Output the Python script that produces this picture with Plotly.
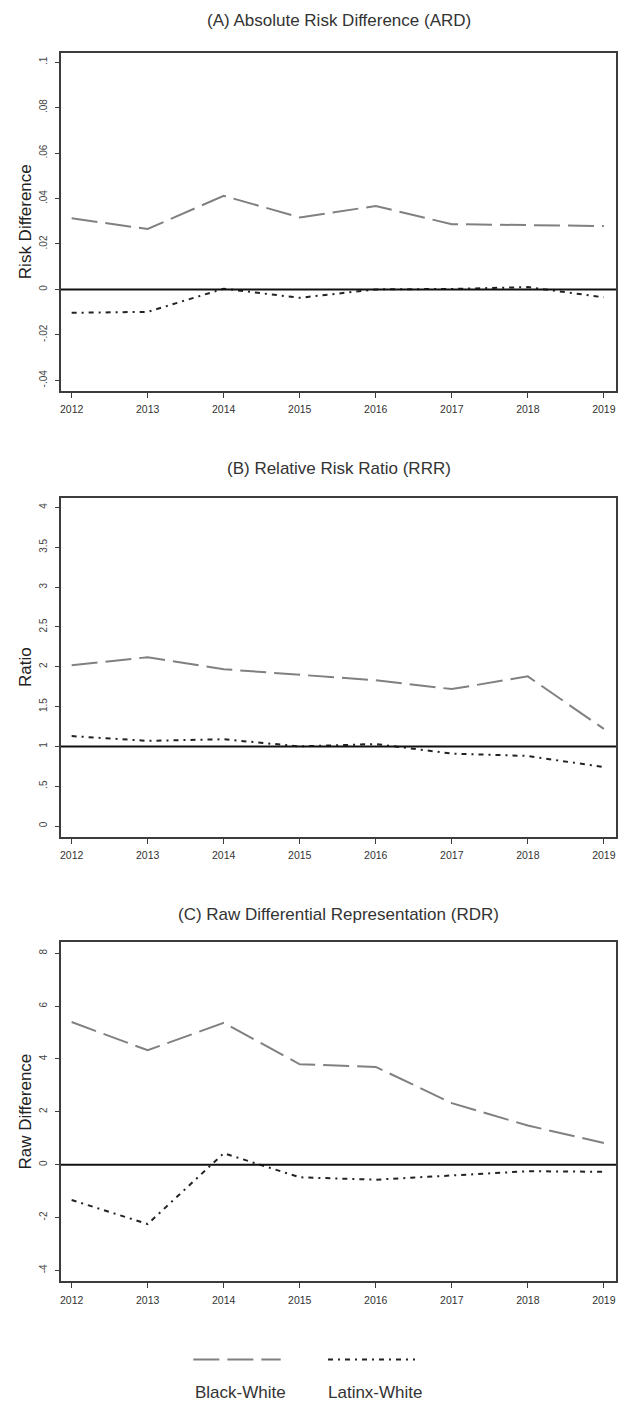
import plotly.graph_objects as go

# ---------------- data ----------------
years = [2012, 2013, 2014, 2015, 2016, 2017, 2018, 2019]
series_names = ["Black-White", "Latinx-White"]

ard_black = [0.0313, 0.0266, 0.0412, 0.0317, 0.0367, 0.0287, 0.0283, 0.0279]
ard_latinx = [-0.0103, -0.0099, 0.0003, -0.0037, 0.0000, 0.0002, 0.0010, -0.0035]

rrr_black = [2.02, 2.12, 1.97, 1.90, 1.83, 1.72, 1.88, 1.22]
rrr_latinx = [1.13, 1.07, 1.09, 1.00, 1.03, 0.91, 0.88, 0.74]

rdr_black = [5.40, 4.33, 5.37, 3.80, 3.70, 2.33, 1.48, 0.82]
rdr_latinx = [-1.34, -2.25, 0.43, -0.48, -0.57, -0.42, -0.25, -0.27]

panel_titles = ["(A) Absolute Risk Difference (ARD)",
                "(B) Relative Risk Ratio (RRR)",
                "(C) Raw Differential Representation (RDR)"]
y_titles = ["Risk Difference", "Ratio", "Raw Difference"]
ref_values = [0, 1, 0]

ard_tickvals = [-0.04, -0.02, 0, 0.02, 0.04, 0.06, 0.08, 0.1]
ard_ticktext = ["-.04", "-.02", "0", ".02", ".04", ".06", ".08", ".1"]
rrr_tickvals = [0, 0.5, 1, 1.5, 2, 2.5, 3, 3.5, 4]
rrr_ticktext = ["0", ".5", "1", "1.5", "2", "2.5", "3", "3.5", "4"]
rdr_tickvals = [-4, -2, 0, 2, 4, 6, 8]
rdr_ticktext = ["-4", "-2", "0", "2", "4", "6", "8"]

# ---------------- styling / layout ----------------
W, H = 630, 1406
FONT = "Liberation Sans, Arial, sans-serif"
black_color = "#808080"
latinx_color = "#222222"
black_dash = "26px,8px"
latinx_dash = "5px,5px,2px,5px"
frame_color = "#3c3c3c"

box_x = (61, 616)
boxes_y = [(52.7, 390.7), (497.7, 836.7), (942.3, 1281.0)]
title_y = [20.7, 468.3, 914.3]
y_ranges = [(-0.0446, 0.1042), (-0.134, 4.124), (-4.406, 8.418)]
x_range = (2011.86, 2019.16)

panels = [
    (ard_black, ard_latinx, ard_tickvals, ard_ticktext),
    (rrr_black, rrr_latinx, rrr_tickvals, rrr_ticktext),
    (rdr_black, rdr_latinx, rdr_tickvals, rdr_ticktext),
]

fig = go.Figure()
layout = dict(
    width=W, height=H,
    margin=dict(l=0, r=0, t=0, b=0),
    paper_bgcolor="white", plot_bgcolor="white",
    showlegend=False,
    font=dict(family=FONT, color="#333333"),
)
shapes = []
annotations = []

for i, (b_vals, l_vals, tv, tt) in enumerate(panels):
    n = "" if i == 0 else str(i + 1)
    xa, ya = "x" + n, "y" + n
    fig.add_trace(go.Scatter(x=years, y=b_vals, mode="lines", name=series_names[0],
                             xaxis=xa, yaxis=ya,
                             line=dict(color=black_color, width=2, dash=black_dash)))
    fig.add_trace(go.Scatter(x=years, y=l_vals, mode="lines", name=series_names[1],
                             xaxis=xa, yaxis=ya,
                             line=dict(color=latinx_color, width=2, dash=latinx_dash)))
    y0, y1 = boxes_y[i]
    layout["xaxis" + n] = dict(
        domain=[box_x[0] / W, box_x[1] / W], range=list(x_range),
        anchor=ya, tickmode="array", tickvals=years,
        ticktext=[str(y) for y in years],
        ticks="outside", ticklen=5, tickwidth=1, tickcolor=frame_color,
        ticklabelstandoff=3,
        showline=True, linecolor=frame_color, linewidth=2, mirror=True,
        showgrid=False, zeroline=False,
        tickfont=dict(family=FONT, size=10.5, color="#333333"),
    )
    layout["yaxis" + n] = dict(
        domain=[1 - y1 / H, 1 - y0 / H], range=list(y_ranges[i]),
        anchor=xa, tickmode="array", tickvals=tv, ticktext=tt,
        ticks="outside", ticklen=4, tickwidth=1, tickcolor=frame_color,
        tickangle=-90, ticklabelstandoff=4,
        showline=True, linecolor=frame_color, linewidth=2, mirror=True,
        showgrid=False, zeroline=False,
        tickfont=dict(family=FONT, size=10, color="#444444"),
        title=dict(text=y_titles[i], standoff=2,
                   font=dict(family=FONT, size=17, color="#222222")),
    )
    shapes.append(dict(type="line", xref=xa + " domain", yref=ya,
                       x0=0, x1=1, y0=ref_values[i], y1=ref_values[i],
                       line=dict(color="#111111", width=2), layer="above"))
    annotations.append(dict(text=panel_titles[i], xref="paper", yref="paper",
                            x=(box_x[0] + box_x[1]) / 2 / W, y=1 - title_y[i] / H,
                            xanchor="center", yanchor="middle", showarrow=False,
                            font=dict(family=FONT, size=17, color="#333333")))

# legend (samples above labels, as in the original)
legend_y = 1359.5
label_y = 1392.0
legend_spans = [(193.3, 280.7), (328.0, 415.0)]
legend_styles = [(black_color, black_dash), (latinx_color, latinx_dash)]
for (xs, xe), (col, dash), name in zip(legend_spans, legend_styles, series_names):
    shapes.append(dict(type="line", xref="paper", yref="paper",
                       x0=xs / W, x1=xe / W, y0=1 - legend_y / H, y1=1 - legend_y / H,
                       line=dict(color=col, width=2, dash=dash)))
    annotations.append(dict(text=name, xref="paper", yref="paper",
                            x=(xs + xe) / 2 / W + 3 / W, y=1 - label_y / H,
                            xanchor="center", yanchor="middle", showarrow=False,
                            font=dict(family=FONT, size=17, color="#333333")))

layout["shapes"] = shapes
layout["annotations"] = annotations
fig.update_layout(**layout)
fig.write_html(
    "out.html",
    config={"displayModeBar": False},
    post_script="document.body.style.margin='0';document.body.style.overflow='hidden';",
)
